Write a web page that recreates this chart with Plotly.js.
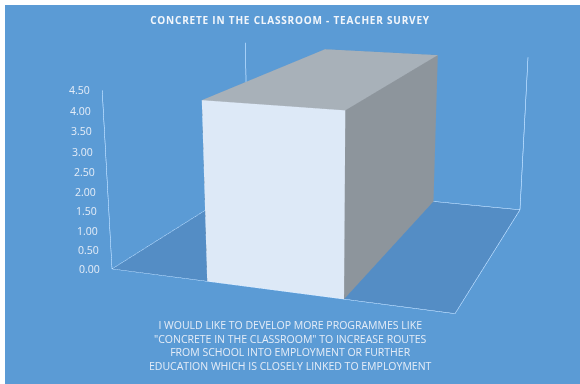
<!DOCTYPE html>
<html><head><meta charset="utf-8">
<script src="https://cdn.plot.ly/plotly-3.0.1.min.js"></script>
<style>
html,body{margin:0;padding:0;background:#ffffff;width:580px;height:384px;overflow:hidden}
#chart{position:absolute;left:5px;top:5px;width:575px;height:379px}
.gtitle{letter-spacing:0.8px}
</style></head><body><div id="chart"></div>
<script>
// ---- data ----
const chartTitle = 'CONCRETE IN THE CLASSROOM - TEACHER SURVEY';
const categories = ['I WOULD LIKE TO DEVELOP MORE PROGRAMMES LIKE<br>"CONCRETE IN THE CLASSROOM" TO INCREASE ROUTES<br>FROM SCHOOL INTO EMPLOYMENT OR FURTHER<br>EDUCATION WHICH IS CLOSELY LINKED TO EMPLOYMENT'];
const values = [4.43];
const zTickVals = [0, 0.5, 1, 1.5, 2, 2.5, 3, 3.5, 4, 4.5];
const zTickText = ['0.00','0.50','1.00','1.50','2.00','2.50','3.00','3.50','4.00','4.50'];

// ---- build bar boxes from data ----
const halfWidth = 0.2;             // gap width 150%
const depthRange = [0, 1];
const catRange = [-0.5, categories.length - 0.5];
const zRange = [0, 4.5];
const COL_FRONT = '#dde9f7', COL_TOP = '#a8b1b9', COL_SIDE = '#8d959c';
const TXT = '#e4ecf7';
const FONT = 'Open Sans, Noto Sans, sans-serif';

const traces = values.map((v, i) => {
  const x0 = depthRange[0], x1 = depthRange[1];
  const y0 = i - halfWidth, y1 = i + halfWidth;
  const xs = [x0, x1, x1, x0, x0, x1, x1, x0];
  const ys = [y0, y0, y1, y1, y0, y0, y1, y1];
  const zs = [0, 0, 0, 0, v, v, v, v];
  const I = [1,1, 4,4, 3,3, 0,0, 0,0, 0,0];
  const J = [2,6, 5,6, 2,6, 1,5, 3,7, 1,2];
  const K = [6,5, 6,7, 6,7, 5,4, 7,4, 2,3];
  const fc = [COL_FRONT,COL_FRONT, COL_TOP,COL_TOP, COL_SIDE,COL_SIDE, COL_SIDE,COL_SIDE, COL_SIDE,COL_SIDE, COL_SIDE,COL_SIDE];
  return {type:'mesh3d', x:xs, y:ys, z:zs, i:I, j:J, k:K, facecolor:fc, flatshading:true,
    lighting:{ambient:1, diffuse:0, specular:0, roughness:1, fresnel:0},
    hoverinfo:'skip', showscale:false};
});

const GRID = 'rgba(225,236,249,0.85)';
const hiddenAxis = (range) => ({
  range: range, autorange:false, tickmode:'array', tickvals: range, showticklabels:false,
  showgrid:true, gridcolor:GRID, gridwidth:1, zeroline:false, showline:false, ticks:'',
  showbackground:false, showspikes:false, title:{text:''}
});

// value-axis labels, anchored in the scene at the left wall edge
const zLabels = zTickVals.map((z, k) => ({
  x: depthRange[1], y: catRange[0], z: z, text: zTickText[k],
  showarrow:false, xanchor:'right', yanchor:'middle', xshift:-10,
  font:{family:FONT, size:10.5, color:TXT}
}));

const layout = {
  width:575, height:379, margin:{l:0,r:0,t:0,b:0},
  paper_bgcolor:'#5b9bd5', showlegend:false,
  title:{text:chartTitle, font:{family:FONT, size:10, color:'#f2f6fb', weight:'bold'},
    x:285/575, xanchor:'center', xref:'paper', y:1-15/379, yref:'container', yanchor:'middle'},
  scene:{
    domain:{x:[0.092,1], y:[0.0132,1]},
    bgcolor:'rgba(0,0,0,0)',
    aspectmode:'manual', aspectratio:{x:0.982, y:1, z:0.518},
    camera:{eye:{x:3.054, y:1.047, z:0.800}, center:{x:0.0426, y:-0.0311, z:-0.1049},
            up:{x:0,y:0,z:1}, projection:{type:'perspective'}},
    xaxis: hiddenAxis(depthRange),
    yaxis: hiddenAxis(catRange),
    zaxis: {range:zRange, autorange:false, tickmode:'array', tickvals:zTickVals,
      showticklabels:false, showgrid:false, zeroline:false, showline:false, ticks:'', showspikes:false,
      showbackground:true, backgroundcolor:'#548dc5', title:{text:''}},
    annotations: zLabels
  },
  annotations:[{text:categories[0], xref:'paper', yref:'paper', x:285/575, y:1-340.5/379,
    xanchor:'center', yanchor:'middle', showarrow:false, align:'center',
    font:{family:FONT, size:10.5, color:TXT}}]
};

// narrower field of view, like the spreadsheet's 3-D perspective
const FOVY = 2*Math.atan(187/1087);
Plotly.newPlot('chart', traces, layout, {displayModeBar:false}).then(gd => {
  const sc = gd._fullLayout.scene && gd._fullLayout.scene._scene;
  if (sc && sc.glplot) {
    sc.glplot.fovy = FOVY;
    if (sc.glplot.redraw) sc.glplot.redraw();
  }
});
</script></body></html>
